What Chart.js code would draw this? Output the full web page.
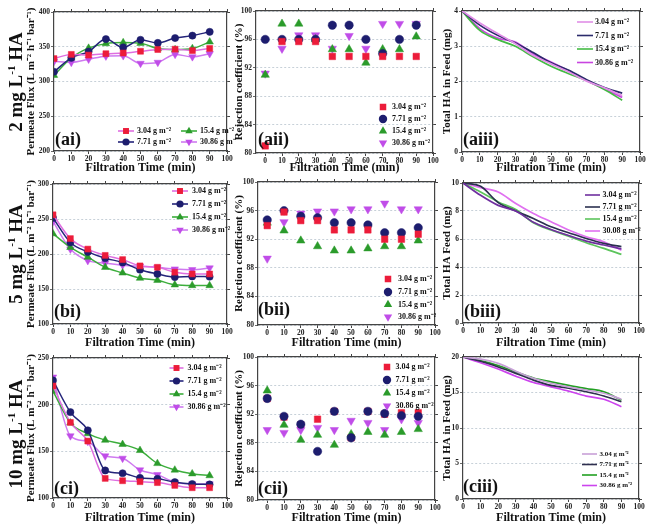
<!DOCTYPE html>
<html><head><meta charset="utf-8">
<script src="https://cdn.jsdelivr.net/npm/chart.js@4/dist/chart.umd.min.js"></script>
<style>
html,body{margin:0;padding:0;background:#fff;}
#wrap{position:relative;width:650px;height:527px;overflow:hidden;background:#fff;}
canvas{position:absolute;}
.row{position:absolute;font:bold 19px "Liberation Serif","Times New Roman",serif;color:#111;width:160px;height:24px;line-height:24px;text-align:center;transform:rotate(-90deg);white-space:nowrap;z-index:5;}
.row sup{font-size:11px;line-height:0;vertical-align:7px;}
.pl{position:absolute;font:bold 18px "Liberation Serif","Times New Roman",serif;color:#111;line-height:18px;white-space:nowrap;z-index:5;}
</style></head><body><div id="wrap"></div>
<script>
// ---------------- data ----------------
const times = [0, 10, 20, 30, 40, 50, 60, 70, 80, 90];
const seriesLabels = ['3.04 g m⁻²', '7.71 g m⁻²', '15.4 g m⁻²', '30.86 g m⁻²'];
const seriesLabelsBiii = ['3.04 g m⁻²', '7.71 g m⁻²', '15.4 g m⁻²', '30.08 g m⁻²'];
const xTitle = 'Filtration Time (min)';
const fluxTitle = 'Permeate Flux (L m⁻² h⁻¹ bar⁻¹)';
const rejTitle = 'Rejection coefficient (%)';
const haTitle = 'Total HA in Feed (mg)';
const haTitleB = 'Total HA Feed (mg)';

// (ai) 2 mg/L permeate flux
const fluxA304 = [333, 339, 338, 340, 341, 343.5, 346, 346.5, 344.5, 347.5];
const fluxA771 = [314, 334, 343, 361, 349, 360, 355.5, 362.5, 366, 371.5];
const fluxA154 = [309, 334, 348, 354.5, 356, 355, 347.5, 346, 347.5, 357];
const fluxA3086 = [329, 327.5, 332, 336.5, 337, 326, 327.5, 339, 335.5, 340];
// (bi) 5 mg/L
const fluxB304 = [256, 222, 207, 198, 192, 183, 181, 174, 171.5, 171.5];
const fluxB771 = [251.5, 216.5, 203, 194, 188, 177.5, 171.5, 167, 168, 167.5];
const fluxB154 = [229, 209.5, 195.5, 181, 173, 165.5, 162.5, 156, 155, 155];
const fluxB3086 = [246.5, 207, 190.5, 187, 184, 182.5, 181, 178.5, 177.5, 180];
// (ci) 10 mg/L
const fluxC304 = [220, 181, 161, 121, 118.5, 117.5, 116.5, 113.5, 111, 111];
const fluxC771 = [226, 192, 172.5, 129.5, 126.5, 121.5, 120.5, 117, 115, 114.5];
const fluxC154 = [214.5, 180.5, 169, 162, 157.5, 151, 137, 130, 126, 124];
const fluxC3086 = [229.5, 166.5, 160.5, 145, 142.5, 130, 125, 117, 115, 115];

// (aii) rejection
const rejA304 = [81, 95.7, 95.7, 95.7, 93.6, 93.6, 93.6, 93.6, 93.6, 93.6];
const rejA771 = [96, 96, 96, 96, 98, 98, 96, 94, 96, 98];
const rejA154 = [91, 98.2, 98.2, 96, 94.6, 94.6, 92.7, 94.6, 94.6, 96.4];
const rejA3086 = [91.2, 94.7, 96.6, 96.6, 94.7, 96.5, 94.7, 98.2, 98.2, 98.2];
// (bii)
const rejB304 = [93.9, 95.8, 94.6, 94.6, 93.3, 93.3, 93.3, 92, 92, 92.7];
const rejB771 = [94.7, 96, 95.2, 95, 94.3, 94.3, 94, 92.9, 92.9, 93.6];
const rejB154 = [94.3, 93.2, 91.8, 91, 90.4, 90.4, 90.7, 91, 91, 91.8];
const rejB3086 = [89.3, 94.4, 95.6, 95.9, 95.9, 96.2, 96.2, 97, 96.2, 96.2];
// (cii)
const rejC304 = [94.2, 91.6, 90.5, 91.3, 92.4, 88.7, 92.4, 92, 92.2, 92.2];
const rejC771 = [94.2, 91.7, 90.6, 86.8, 92.4, 88.7, 92.4, 92.1, 91.8, 91.7];
const rejC154 = [95.3, 90.5, 88.4, 89.1, 87.7, 89.2, 89.5, 89.1, 89.5, 89.9];
const rejC3086 = [89.8, 89.4, 89.8, 90.1, 89.8, 91.1, 90.8, 89.8, 91.3, 90.8];

// (aiii) total HA in feed
const haA304 = [4, 3.66, 3.36, 3.07, 2.74, 2.5, 2.27, 2.01, 1.82, 1.6];
const haA771 = [4, 3.6, 3.31, 3.09, 2.82, 2.53, 2.32, 2.05, 1.83, 1.67];
const haA154 = [4, 3.45, 3.19, 3.0, 2.7, 2.43, 2.22, 2.03, 1.77, 1.47];
const haA3086 = [4, 3.5, 3.23, 3.12, 2.79, 2.55, 2.3, 2.03, 1.79, 1.55];
// (biii)
const haB304 = [10, 9.12, 8.4, 8.0, 7.2, 6.68, 6.25, 5.85, 5.57, 5.3];
const haB771 = [10, 9.76, 8.6, 8.0, 7.46, 6.87, 6.45, 6.04, 5.69, 5.45];
const haB154 = [10, 9.36, 8.65, 8.1, 7.16, 6.64, 6.2, 5.73, 5.33, 4.9];
const haB3008 = [10, 9.67, 9.36, 8.53, 7.82, 7.23, 6.64, 6.16, 5.8, 5.2];
// (ciii)
const haC304 = [20, 19.7, 19.1, 18.0, 17.0, 16.3, 15.8, 15.35, 14.9, 14.05];
const haC771 = [20, 19.4, 18.6, 17.7, 16.75, 16.0, 15.6, 15.1, 14.5, 13.7];
const haC154 = [20, 19.5, 18.8, 17.9, 17.05, 16.5, 16.0, 15.55, 15.1, 13.9];
const haC3086 = [20, 19.2, 18.3, 17.3, 16.4, 15.8, 15.2, 14.5, 14.05, 13.0];

// ---------------- styling ----------------
const FONT = '"Liberation Serif", "Times New Roman", serif';
const markerColors = ['#ec1c3a', '#1d1d6e', '#2b9b2b', '#c04de8'];
const fluxLineColors = ['#df6ee0', '#24247a', '#3cae3c', '#cf7af0'];
const haColorsA = ['#e08ee6', '#2b2b6b', '#44bb44', '#c845e0'];
const haColorsB = ['#6f2f9f', '#2b3050', '#5cc45c', '#e070f0'];
const haColorsC = ['#c8a0d8', '#2f2f4f', '#22a022', '#cc44ee'];
const pStyles = ['rect', 'circle', 'triangle', 'triangle'];
const pRot = [0, 0, 0, 180];
const radFlux = [4.2, 3.6, 4.3, 4.3];
const radScatter = [4.6, 4.2, 4.8, 4.8];

function pts(arr) { return times.map((t, i) => ({ x: t, y: arr[i] })); }

function fluxSets(arrs, labels) {
  return arrs.map((a, i) => ({
    label: labels[i], data: pts(a), borderColor: fluxLineColors[i], borderWidth: 1.5,
    backgroundColor: markerColors[i], pointBackgroundColor: markerColors[i], pointBorderColor: markerColors[i],
    pointBorderWidth: 0.5, pointStyle: pStyles[i], pointRotation: pRot[i], pointRadius: radFlux[i],
    cubicInterpolationMode: 'monotone', fill: false
  }));
}
function scatterSets(arrs, labels, orders) {
  return arrs.map((a, i) => ({
    label: labels[i], data: pts(a), showLine: false, borderColor: markerColors[i],
    backgroundColor: markerColors[i], pointBackgroundColor: markerColors[i], pointBorderColor: markerColors[i],
    pointBorderWidth: 0.5, pointStyle: pStyles[i], pointRotation: pRot[i], pointRadius: radScatter[i],
    order: orders ? orders[i] : i
  }));
}
function haSets(arrs, labels, colors) {
  return arrs.map((a, i) => ({
    label: labels[i], data: pts(a), borderColor: colors[i], backgroundColor: colors[i], borderWidth: 1.7,
    pointRadius: 0, cubicInterpolationMode: 'monotone', fill: false
  }));
}

function drawMarker(ctx, style, rot, r, x, y, color) {
  ctx.fillStyle = color;
  ctx.beginPath();
  if (style === 'rect') {
    const s = r * Math.SQRT1_2; ctx.rect(x - s, y - s, 2 * s, 2 * s);
  } else if (style === 'circle') {
    ctx.arc(x, y, r, 0, Math.PI * 2);
  } else {
    const base = rot === 180 ? Math.PI : 0;
    for (let k = 0; k < 3; k++) {
      const a = base + k * 2 * Math.PI / 3;
      const px = x + Math.sin(a) * r, py = y - Math.cos(a) * r;
      if (k === 0) ctx.moveTo(px, py); else ctx.lineTo(px, py);
    }
    ctx.closePath();
  }
  ctx.fill();
}

function legendPlugin(L, ox, oy) {
  return {
    id: 'insideLegend',
    afterDatasetsDraw(chart) {
      const ctx = chart.ctx;
      chart.data.datasets.forEach((ds, i) => {
        const x = L.pos[i][0] - ox, y = L.pos[i][1] - oy;
        ctx.save();
        if (L.line) {
          ctx.strokeStyle = ds.borderColor; ctx.lineWidth = 1.6;
          ctx.beginPath(); ctx.moveTo(x - L.len / 2, y); ctx.lineTo(x + L.len / 2, y); ctx.stroke();
        }
        if (L.marker) drawMarker(ctx, ds.pointStyle, ds.pointRotation, ds.pointRadius, x, y, ds.pointBackgroundColor);
        ctx.fillStyle = '#111';
        ctx.font = 'bold ' + L.size + 'px ' + FONT;
        ctx.textBaseline = 'middle'; ctx.textAlign = 'left';
        ctx.fillText(ds.label, x + L.tx, y);
        ctx.restore();
      });
    }
  };
}

const wrap = document.getElementById('wrap');
const tickFont = { family: FONT, size: 7.5, weight: 'bold' };
const frame = { display: true, color: '#444', width: 1.2 };

function makePanel(p) {
  const c = document.createElement('canvas');
  const top = p.T - 6, h = p.B + p.H - top, w = p.cr - p.cl;
  c.width = w; c.height = h;
  c.style.left = p.cl + 'px'; c.style.top = top + 'px';
  c.style.width = w + 'px'; c.style.height = h + 'px';
  wrap.appendChild(c);
  const W = p.L - p.cl, Rw = p.cr - p.R;
  const xmin = p.xmin;
  new Chart(c, {
    type: 'line',
    data: { datasets: p.datasets },
    options: {
      responsive: false, animation: false, devicePixelRatio: 1, events: [],
      layout: { padding: 0 },
      plugins: { legend: { display: false }, tooltip: { enabled: false } },
      scales: {
        x: {
          type: 'linear', position: 'bottom', min: xmin, max: 100,
          ticks: { stepSize: 10, includeBounds: false, font: tickFont, color: '#222', padding: 1, maxRotation: 0, autoSkip: false },
          grid: { display: true, drawOnChartArea: false, drawTicks: true, tickLength: 3, tickColor: '#444' },
          border: frame,
          title: { display: true, text: xTitle, font: { family: FONT, size: 12, weight: 'bold' }, color: '#111', padding: { top: 0, bottom: 0 } },
          afterFit: s => { s.height = p.H; }
        },
        x2: {
          type: 'linear', position: 'top', min: xmin, max: 100,
          ticks: { display: false, stepSize: 10, includeBounds: false },
          grid: { display: true, drawOnChartArea: false, drawTicks: true, tickLength: 3, tickColor: '#444' },
          border: frame,
          afterFit: s => { s.height = 6; }
        },
        y: {
          type: 'linear', position: 'left', min: p.ymin, max: p.ymax,
          ticks: { stepSize: p.ystep, font: tickFont, color: '#222', padding: 1 },
          grid: { display: true, color: '#b9c5cf', lineWidth: 0.8, drawTicks: true, tickLength: 3, tickColor: '#444' },
          border: { display: true, color: '#444', width: 1.2, dash: [2, 2] },
          title: { display: true, text: p.ytitle, font: { family: FONT, size: 11, weight: 'bold' }, color: '#111', padding: { top: 0, bottom: 0 } },
          afterFit: s => { s.width = W; }
        },
        y2: {
          type: 'linear', position: 'right', min: p.ymin, max: p.ymax,
          ticks: { display: false, stepSize: p.ystep },
          grid: { display: true, drawOnChartArea: false, drawTicks: true, tickLength: 3, tickColor: '#444' },
          border: frame,
          afterFit: s => { s.width = Rw; }
        }
      }
    },
    plugins: [legendPlugin(p.legend, p.cl, top)]
  });
}

const col = (x, ys) => ys.map(y => [x, y]);
const panels = [
  { L: 54, R: 227, T: 12, B: 151, H: 24, cl: 25, cr: 236, xmin: 0, ymin: 200, ymax: 400, ystep: 50, ytitle: fluxTitle,
    datasets: fluxSets([fluxA304, fluxA771, fluxA154, fluxA3086], seriesLabels),
    legend: { pos: [[126, 131], [126, 142], [189, 131], [189, 142]], tx: 11, len: 16, line: true, marker: true, size: 8 } },
  { L: 256, R: 433, T: 11, B: 153, H: 22, cl: 233, cr: 441, xmin: -5.5, ymin: 80, ymax: 100, ystep: 4, ytitle: rejTitle,
    datasets: scatterSets([rejA304, rejA771, rejA154, rejA3086], seriesLabels),
    legend: { pos: col(383, [107, 119, 131, 143]), tx: 9, len: 0, line: false, marker: true, size: 8 } },
  { L: 462, R: 640, T: 11, B: 152, H: 23, cl: 441, cr: 650, xmin: 0, ymin: 0, ymax: 4, ystep: 1, ytitle: haTitle,
    datasets: haSets([haA304, haA771, haA154, haA3086], seriesLabels, haColorsA),
    legend: { pos: col(585, [22, 35.5, 49, 62.5]), tx: 10, len: 16, line: true, marker: false, size: 8 } },

  { L: 53, R: 227, T: 184, B: 324, H: 26, cl: 25, cr: 236, xmin: 0, ymin: 100, ymax: 300, ystep: 50, ytitle: fluxTitle,
    datasets: fluxSets([fluxB304, fluxB771, fluxB154, fluxB3086], seriesLabels),
    legend: { pos: col(180, [191, 204, 217, 230]), tx: 12, len: 16, line: true, marker: true, size: 8 } },
  { L: 258, R: 435, T: 182, B: 325, H: 25, cl: 233, cr: 443, xmin: -5.5, ymin: 80, ymax: 100, ystep: 4, ytitle: rejTitle,
    datasets: scatterSets([rejB304, rejB771, rejB154, rejB3086], seriesLabels),
    legend: { pos: col(388, [279, 292, 304.5, 317]), tx: 10, len: 0, line: false, marker: true, size: 8 } },
  { L: 463, R: 639, T: 183, B: 323, H: 27, cl: 441, cr: 650, xmin: 0, ymin: 0, ymax: 10, ystep: 2, ytitle: haTitleB,
    datasets: haSets([haB304, haB771, haB154, haB3008], seriesLabelsBiii, haColorsB),
    legend: { pos: col(592.5, [195, 207, 219, 231]), tx: 10, len: 15, line: true, marker: false, size: 8 } },

  { L: 53, R: 227, T: 358, B: 498, H: 27, cl: 25, cr: 236, xmin: 0, ymin: 100, ymax: 250, ystep: 50, ytitle: fluxTitle,
    datasets: fluxSets([fluxC304, fluxC771, fluxC154, fluxC3086], seriesLabels),
    legend: { pos: col(176.5, [368, 381, 394, 407]), tx: 11, len: 14, line: true, marker: true, size: 8 } },
  { L: 258, R: 435, T: 357, B: 500, H: 25, cl: 233, cr: 443, xmin: -5.5, ymin: 80, ymax: 100, ystep: 4, ytitle: rejTitle,
    datasets: scatterSets([rejC304, rejC771, rejC154, rejC3086], seriesLabels, [3, 0, 1, 2]),
    legend: { pos: col(387, [367, 380, 393, 406]), tx: 8.5, len: 0, line: false, marker: true, size: 8 } },
  { L: 463, R: 639, T: 357, B: 499, H: 26, cl: 441, cr: 650, xmin: 0, ymin: 0, ymax: 20, ystep: 5, ytitle: haTitle,
    datasets: haSets([haC304, haC771, haC154, haC3086], seriesLabels, haColorsC),
    legend: { pos: col(589.5, [454, 464.5, 475, 485.5]), tx: 10, len: 15, line: true, marker: false, size: 7 } }
];
panels.forEach(makePanel);

// row labels
const rowLabels = [['2', 82], ['5', 254], ['10', 434]];
rowLabels.forEach(([n, cy]) => {
  const d = document.createElement('div');
  d.className = 'row';
  d.innerHTML = n + ' mg L<sup>-1</sup> HA';
  d.style.left = (16 - 80) + 'px';
  d.style.top = (cy - 12) + 'px';
  wrap.appendChild(d);
});
// panel labels
const panelLabels = [['(ai)', 55, 145], ['(aii)', 258, 145], ['(aiii)', 463, 145],
  ['(bi)', 54, 317], ['(bii)', 258, 315], ['(biii)', 464, 317],
  ['(ci)', 54, 494], ['(cii)', 258, 494], ['(ciii)', 463, 492]];
panelLabels.forEach(([t, x, base]) => {
  const d = document.createElement('div');
  d.className = 'pl';
  d.textContent = t;
  d.style.left = x + 'px';
  d.style.top = (base - 15) + 'px';
  wrap.appendChild(d);
});
</script>
</body></html>
